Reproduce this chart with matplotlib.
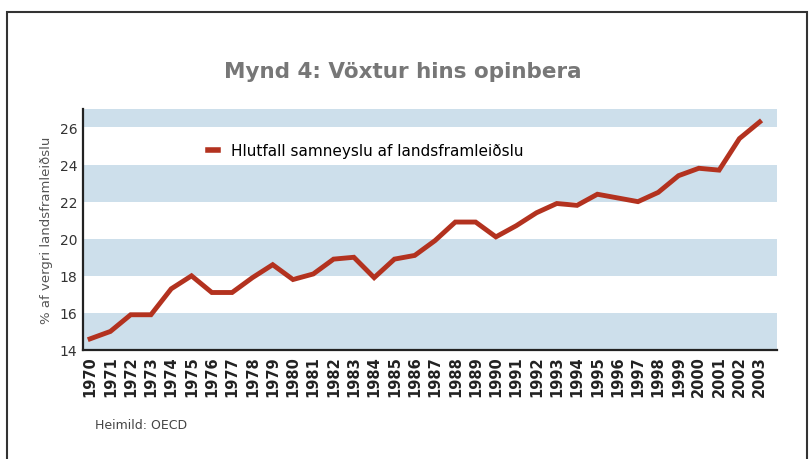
import matplotlib
matplotlib.use("Agg")
import matplotlib.pyplot as plt
import matplotlib.patches as mpatches
import numpy as np

# Data
years = list(range(1970, 2004))
share_gdp = [14.6, 15.0, 15.9, 15.9, 17.3, 18.0, 17.1, 17.1, 17.9, 18.6,
             17.8, 18.1, 18.9, 19.0, 17.9, 18.9, 19.1, 19.9, 20.9, 20.9,
             20.1, 20.7, 21.4, 21.9, 21.8, 22.4, 22.2, 22.0, 22.5, 23.4,
             23.8, 23.7, 25.4, 26.3]
y_ticks = [14, 16, 18, 20, 22, 24, 26]
band_edges = [(14, 16), (18, 20), (22, 24), (26, 27)]

title_text = "Mynd 4: Vöxtur hins opinbera"
series_label = "Hlutfall samneyslu af landsframleiðslu"
y_label = "% af vergri landsframleiðslu"
source_text = "Heimild: OECD"

fig = plt.figure(figsize=(8.11, 4.6), dpi=100)
ax = fig.add_axes([0.1023, 0.237, 0.8557, 0.524])

# outer frame
frame = mpatches.Rectangle((0.009, -0.05), 0.986, 1.022, transform=fig.transFigure,
                           fill=False, edgecolor="#333333", linewidth=1.5)
fig.patches.append(frame)

for lo, hi in band_edges:
    ax.axhspan(lo, hi, color="#cddfeb", zorder=0, linewidth=0)

ax.plot(years, share_gdp, color="#b3321f", linewidth=3.5, label=series_label,
        solid_joinstyle="miter", zorder=3)

ax.set_xlim(1969.65, 2003.85)
ax.set_ylim(14, 27)
ax.set_yticks(y_ticks)
ax.set_xticks(years)
ax.set_xticklabels([str(y) for y in years], rotation=90, fontsize=10.5,
                   fontweight="bold", color="#222222")
ax.tick_params(axis="y", length=0, labelsize=10, labelcolor="#333333", pad=4)
ax.tick_params(axis="x", length=0, pad=4)

for side in ["top", "right"]:
    ax.spines[side].set_visible(False)
for side in ["left", "bottom"]:
    ax.spines[side].set_linewidth(1.6)
    ax.spines[side].set_color("#222222")

ax.set_ylabel(y_label, fontsize=9.5, color="#555555", labelpad=5)

leg = ax.legend(loc="upper left", bbox_to_anchor=(0.16, 0.915), frameon=False,
                fontsize=11, handlelength=0.7, handletextpad=0.8)
leg.get_lines()[0].set_linewidth(4)

fig.text(0.497, 0.843, title_text, ha="center", va="center", fontsize=15.5,
         fontweight="bold", color="#777777")
fig.text(0.117, 0.075, source_text, ha="left", va="center", fontsize=9,
         color="#444444")

fig.savefig("out.png", dpi=100)
